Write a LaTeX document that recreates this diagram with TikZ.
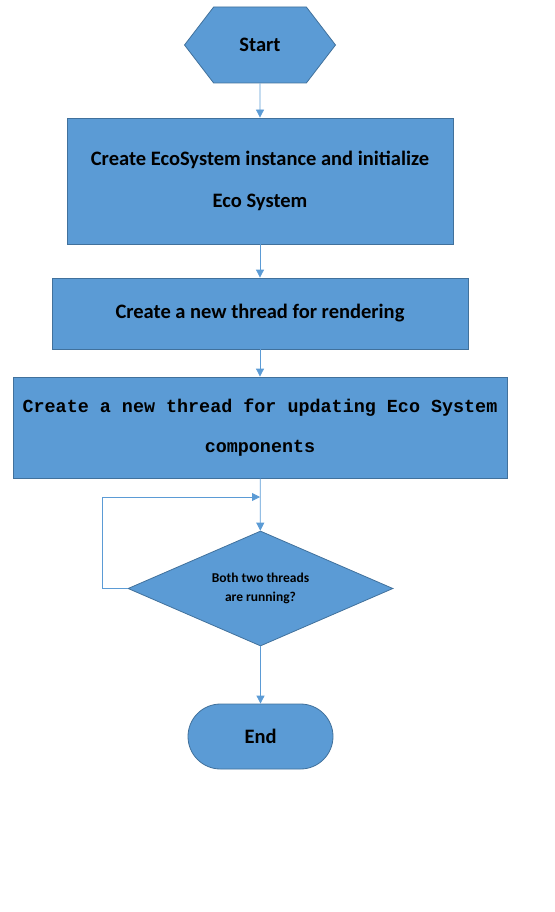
\documentclass[tikz,border=0pt]{standalone}
\usepackage{fontspec}
\setmainfont{Carlito}
\setmonofont{Liberation Mono}
\usetikzlibrary{shapes.geometric,shapes.misc,shapes.symbols,arrows.meta}
\definecolor{boxblue}{HTML}{5B9BD5}
\definecolor{boxedge}{HTML}{41719C}
\begin{document}
\begin{tikzpicture}[x=1pt,y=-1pt]
    \tikzstyle{block}=[draw=boxedge, fill=boxblue, line width=0.8pt, inner sep=0pt, align=center, font=\bfseries\fontsize{20.5}{42}\selectfont]
    \tikzstyle{flow}=[color=boxblue, line width=0.8pt, -{Triangle[length=8pt,width=8pt]}]
    \useasboundingbox (0,0) rectangle (554,912);

    \node[block, signal, signal to=west and east, signal pointer angle=105, minimum width=151pt, minimum height=76pt] (start) at (260,45) {Start};
    \node[block, rectangle, minimum width=386pt, minimum height=126pt] (init) at (260,181) {Create EcoSystem instance and initialize\\Eco System};
    \node[block, rectangle, minimum width=416pt, minimum height=71pt] (render) at (260,313.5) {Create a new thread for rendering};
    \node[block, rectangle, minimum width=494pt, minimum height=101pt, font=\ttfamily\bfseries\fontsize{18.4}{40}\selectfont] (update) at (260,427.5) {Create a new thread for updating Eco System\\components};
    \coordinate (loop) at (260,497);
    \node[block, diamond, aspect=2.3, minimum width=265pt, minimum height=115pt, font=\bfseries\fontsize{13.5}{19}\selectfont] (check) at (260.5,588.5) {Both two threads\\are running?};
    \node[block, rounded rectangle, minimum width=145pt, minimum height=65pt] (end) at (260.5,736.5) {End};

    \path[flow] (start) edge (init);
    \path[flow] (init) edge (render);
    \path[flow] (render) edge (update);
    \path[flow] (update) edge (check);
    \draw[flow] (check.west) -- ++(-25,0) |- (loop);
    \path[flow] (check) edge (end);
  \end{tikzpicture}
\end{document}
